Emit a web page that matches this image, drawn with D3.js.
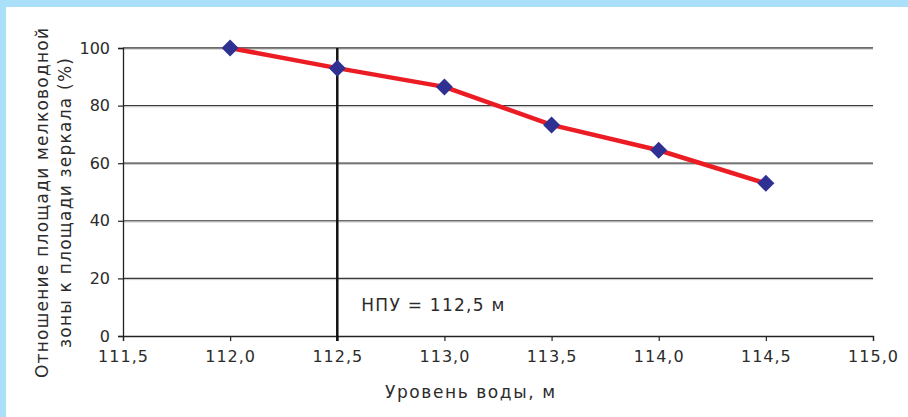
<!DOCTYPE html>
<html>
<head>
<meta charset="utf-8">
<script src="https://cdn.jsdelivr.net/npm/d3@7"></script>
<style>
  html, body { margin: 0; padding: 0; background: #fff; }
  svg { display: block; }
  text { font-family: "DejaVu Sans", sans-serif; fill: #2b2b2b; }
</style>
</head>
<body>
<div id="chart"></div>
<script>
// Water level (m) and shallow-zone share of the water surface (%)
const levels = [112.0, 112.5, 113.0, 113.5, 114.0, 114.5];
const shares = [100, 93, 86.5, 73.3, 64.5, 53];

const xTicks = [111.5, 112.0, 112.5, 113.0, 113.5, 114.0, 114.5, 115.0];
const yTicks = [0, 20, 40, 60, 80, 100];

const npuLevel = 112.5;
const npuLabel = "НПУ = 112,5 м";
const xTitle = "Уровень воды, м";
const yTitleLines = ["Отношение площади мелководной", "зоны к площади зеркала (%)"];

const W = 908, H = 417;
const margin = { top: 48, right: 35, bottom: 81, left: 123 };

const svg = d3.select("#chart").append("svg")
  .attr("width", W).attr("height", H);

// Light blue frame along the top and left edges
svg.append("rect").attr("x", 0).attr("y", 0).attr("width", W).attr("height", 7).attr("fill", "#abe0fa");
svg.append("rect").attr("x", 0).attr("y", 0).attr("width", 6).attr("height", H).attr("fill", "#abe0fa");

const x = d3.scaleLinear().domain([111.5, 115.0]).range([margin.left, W - margin.right]);
const y = d3.scaleLinear().domain([0, 100]).range([H - margin.bottom, margin.top]);

const fmt = d => d.toFixed(1).replace(".", ",");

// Horizontal gridlines
const grid = svg.append("g");
grid.selectAll("line.g").data(yTicks.filter(d => d > 0)).join("line")
  .attr("x1", x.range()[0]).attr("x2", x.range()[1])
  .attr("y1", d => y(d)).attr("y2", d => y(d))
  .attr("stroke", "#3a3a3a").attr("stroke-width", 1.3);
grid.selectAll("line.s").data(yTicks.filter(d => d > 0)).join("line")
  .attr("x1", x.range()[0]).attr("x2", x.range()[1])
  .attr("y1", d => y(d) + 1.2).attr("y2", d => y(d) + 1.2)
  .attr("stroke", "#c8c8c8").attr("stroke-width", 1);

// Axes
const xAxis = svg.append("g")
  .attr("transform", `translate(0,${y(0)})`)
  .call(d3.axisBottom(x).tickValues(xTicks).tickFormat(fmt).tickSize(5).tickPadding(10));
const yAxis = svg.append("g")
  .attr("transform", `translate(${x(111.5)},0)`)
  .call(d3.axisLeft(y).tickValues(yTicks).tickSize(5).tickPadding(8));
[xAxis, yAxis].forEach(a => {
  a.select(".domain").attr("stroke", "#222").attr("stroke-width", 1.3);
  a.selectAll(".tick line").attr("stroke", "#222").attr("stroke-width", 1.2);
  a.selectAll(".tick text").attr("font-size", 16).attr("fill", "#2b2b2b")
    .attr("font-family", "DejaVu Sans, sans-serif");
});
xAxis.selectAll(".tick text").attr("letter-spacing", 1);

// Normal retention level marker line
svg.append("line")
  .attr("x1", x(npuLevel)).attr("x2", x(npuLevel))
  .attr("y1", y(100)).attr("y2", y(0) + 5)
  .attr("stroke", "#111").attr("stroke-width", 2.5);
svg.append("text")
  .attr("x", x(npuLevel) + 24).attr("y", y(0) - 25)
  .attr("font-size", 17)
  .attr("textLength", 143).attr("lengthAdjust", "spacing")
  .text(npuLabel);

// Data line
const pts = levels.map((l, i) => [l, shares[i]]);
svg.append("path")
  .datum(pts)
  .attr("fill", "none").attr("stroke", "#ec1c24").attr("stroke-width", 4.5)
  .attr("stroke-linejoin", "round")
  .attr("d", d3.line().x(d => x(d[0])).y(d => y(d[1])));

// Diamond markers
svg.selectAll("path.m").data(pts).join("path")
  .attr("transform", d => `translate(${x(d[0])},${y(d[1])})`)
  .attr("d", "M0,-8.5L8.5,0L0,8.5L-8.5,0Z")
  .attr("fill", "#2e3192");

// Axis titles
svg.append("text")
  .attr("x", 470).attr("y", 398)
  .attr("text-anchor", "middle").attr("font-size", 17)
  .attr("textLength", 170).attr("lengthAdjust", "spacing")
  .text(xTitle);

const yMid = 203;
const yTitleLens = [350, 290];
yTitleLines.forEach((t, i) => {
  svg.append("text")
    .attr("transform", `translate(${[48, 71][i]},${yMid}) rotate(-90)`)
    .attr("text-anchor", "middle").attr("font-size", 17)
    .attr("textLength", yTitleLens[i]).attr("lengthAdjust", "spacing")
    .text(t);
});
</script>
</body>
</html>
